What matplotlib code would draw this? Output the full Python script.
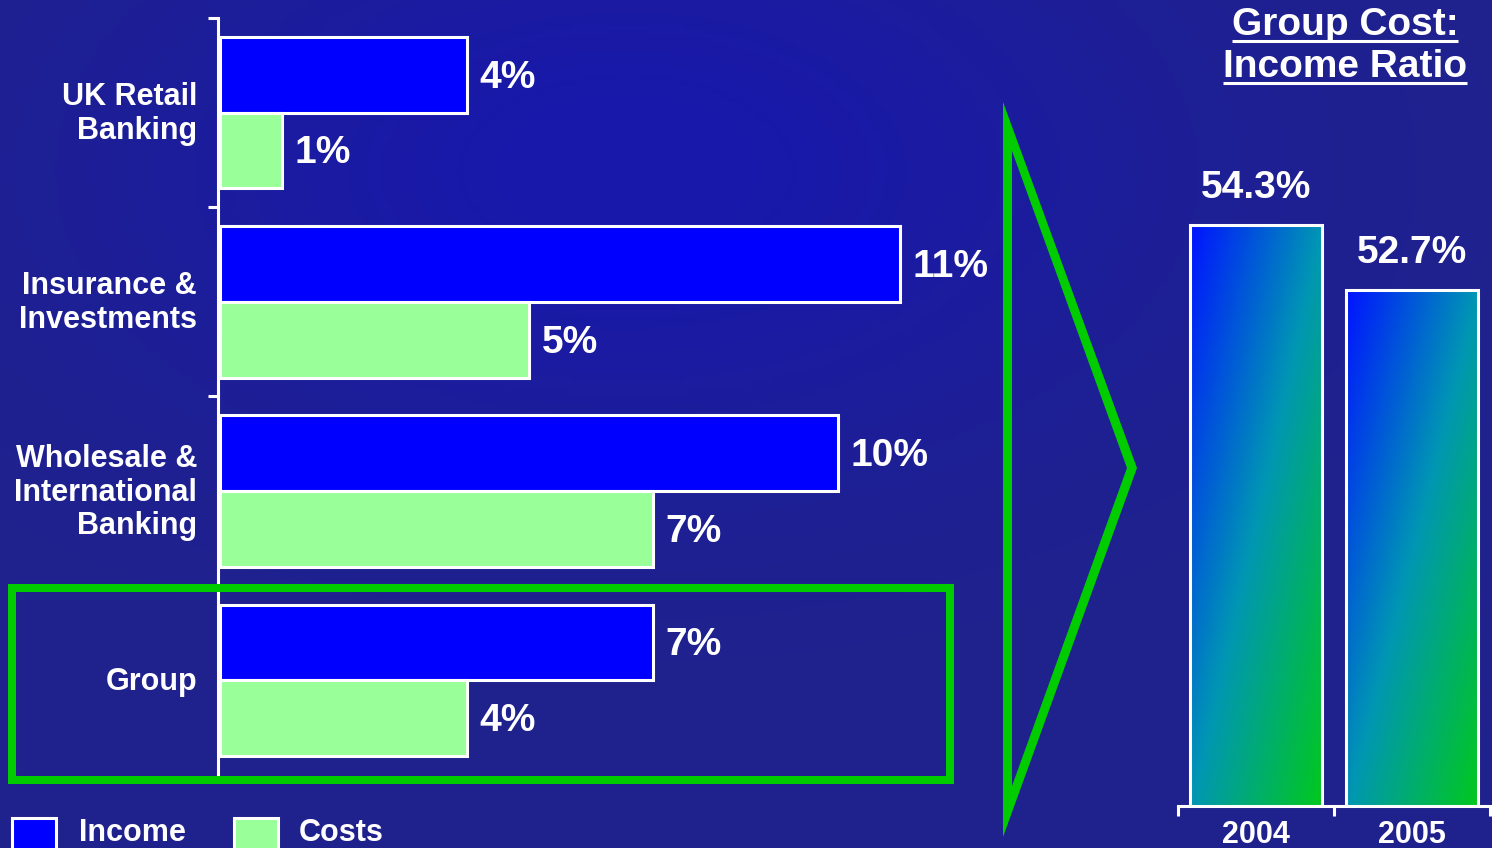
import numpy as np
import matplotlib
matplotlib.use("Agg")
import matplotlib.pyplot as plt
from matplotlib.patches import Rectangle, PathPatch
from matplotlib.path import Path
from matplotlib.colors import LinearSegmentedColormap

# ---- data -------------------------------------------------------------
divisions = ["UK Retail\nBanking", "Insurance &\nInvestments",
             "Wholesale &\nInternational\nBanking", "Group"]
income_growth = [4, 11, 10, 7]      # % change in income
cost_growth = [1, 5, 7, 4]          # % change in costs

years = ["2004", "2005"]
cost_income_ratio = [54.3, 52.7]    # group cost:income ratio, %
ratio_floor = 40                    # ratio axis starts here

# ---- style ------------------------------------------------------------
plt.rcParams["font.family"] = ["Liberation Sans", "DejaVu Sans"]
plt.rcParams["font.weight"] = "bold"
WHITE = "white"
INCOME_C = "#0000ff"
COST_C = "#99ff99"
HILITE = "#00cc00"

W, H = 1492, 848
fig = plt.figure(figsize=(W / 100, H / 100), dpi=100)


def fx(px):
    return px / W


def fy(py):
    return 1 - py / H


# ---- background -------------------------------------------------------
bg = fig.add_axes([0, 0, 1, 1], zorder=-10)
yy, xx = np.mgrid[0:1:200j, 0:1:360j]
glow = np.exp(-(((xx - 0.42) / 0.35) ** 2 + ((yy - 0.2) / 0.35) ** 2))
base = np.array([32, 34, 140]) / 255
bright = np.array([24, 24, 172]) / 255
bg_img = base[None, None, :] * (1 - glow[..., None]) + bright[None, None, :] * glow[..., None]
bg.imshow(bg_img, extent=[0, 1, 0, 1], aspect="auto", origin="upper")
bg.set_axis_off()

# ---- left panel: income vs cost growth by division ---------------------
ax1 = fig.add_axes([fx(218), fy(775), fx(1000) - fx(218), (775 - 18) / H])
ax1.patch.set_visible(False)
n = len(divisions)
centers = np.arange(n) + 0.5
ax1.set_xlim(-0.03, 782 / 62.0)
ax1.set_ylim(n, 0)

ax1.barh(centers - 0.2, income_growth, height=0.4, color=INCOME_C,
         edgecolor=WHITE, linewidth=2.2, zorder=3)
ax1.barh(centers + 0.2, cost_growth, height=0.4, color=COST_C,
         edgecolor=WHITE, linewidth=2.2, zorder=3)

for c, v in zip(centers - 0.2, income_growth):
    ax1.annotate(f"{v}%", xy=(v, c), xytext=(9, -2), textcoords="offset points",
                 ha="left", va="center", fontsize=28, color=WHITE)
for c, v in zip(centers + 0.2, cost_growth):
    ax1.annotate(f"{v}%", xy=(v, c), xytext=(9, -2), textcoords="offset points",
                 ha="left", va="center", fontsize=28, color=WHITE)

for c, name in zip(centers, divisions):
    ax1.annotate(name, xy=(0, c), xycoords=("axes fraction", "data"),
                 xytext=(-15, -1), textcoords="offset points",
                 ha="right", va="center", multialignment="right",
                 fontsize=22, color=WHITE, linespacing=1.17)

for side in ("top", "right", "bottom"):
    ax1.spines[side].set_visible(False)
ax1.spines["left"].set_color(WHITE)
ax1.spines["left"].set_linewidth(2.2)
ax1.set_xticks([])
ax1.set_yticks(np.arange(n))
ax1.tick_params(axis="y", direction="out", length=7, width=2.2,
                color=WHITE, labelleft=False)

# ---- right panel: group cost:income ratio ------------------------------
ax2 = fig.add_axes([fx(1178), fy(806), fx(1490) - fx(1178), (806 - 100) / H])
ax2.patch.set_visible(False)
xpos = np.arange(len(years))
bar_w = 0.85
ax2.set_xlim(-0.5, len(years) - 0.5)
ax2.set_ylim(ratio_floor, ratio_floor + 706 / 40.6)

grad_cmap = LinearSegmentedColormap.from_list(
    "ratio_grad", ["#0014ff", "#0096b4", "#00c81e"])
gu, gv = np.meshgrid(np.linspace(0, 1, 60), np.linspace(0, 1, 240))
grad = (gu + gv) / 2

bars = ax2.bar(xpos, cost_income_ratio, width=bar_w, facecolor="none",
               edgecolor=WHITE, linewidth=2.2, zorder=3)
for b, x, v in zip(bars, xpos, cost_income_ratio):
    im = ax2.imshow(grad, cmap=grad_cmap, vmin=0, vmax=1, origin="upper",
                    extent=[x - bar_w / 2, x + bar_w / 2, ratio_floor, v],
                    aspect="auto", zorder=2)
    im.set_clip_path(b)
    ax2.annotate(f"{v}%", xy=(x, v), xytext=(0, 14), textcoords="offset points",
                 ha="center", va="bottom", fontsize=28, color=WHITE)

for side in ("top", "right", "left"):
    ax2.spines[side].set_visible(False)
ax2.spines["bottom"].set_color(WHITE)
ax2.spines["bottom"].set_linewidth(2.2)
ax2.spines["bottom"].set_zorder(4)
ax2.set_yticks([])
ax2.set_xticks(np.arange(len(years) + 1) - 0.5)
ax2.set_xticklabels([])
ax2.tick_params(axis="x", which="major", direction="out", length=7,
                width=2.2, color=WHITE)
ax2.set_xticks(xpos, minor=True)
ax2.set_xticklabels(years, minor=True)
ax2.tick_params(axis="x", which="minor", length=0, pad=10,
                labelsize=22, labelcolor=WHITE)

# ---- title with underlines --------------------------------------------
t1 = fig.text(fx(1345), fy(35), "Group Cost:", ha="center", va="baseline",
              fontsize=28, color=WHITE)
t2 = fig.text(fx(1345), fy(77), "Income Ratio", ha="center", va="baseline",
              fontsize=28, color=WHITE)
fig.canvas.draw()
renderer = fig.canvas.get_renderer()
for t, uy in ((t1, 40.5), (t2, 83)):
    bb = t.get_window_extent(renderer)
    fig.add_artist(plt.Line2D([bb.x0 / W, bb.x1 / W], [fy(uy), fy(uy)],
                              transform=fig.transFigure, color=WHITE,
                              linewidth=2.2, solid_capstyle="butt"))

# ---- highlight box around the group row --------------------------------
fig.add_artist(Rectangle((fx(11.5), fy(780)), fx(950) - fx(11.5), (780 - 588) / H,
                         transform=fig.transFigure, fill=False,
                         edgecolor=HILITE, linewidth=5.8, zorder=5))

# ---- chevron pointing to the ratio panel -------------------------------
outer = [(1003, 102), (1137, 468), (1003, 837)]
inner = [(1012, 151), (1012, 786), (1127, 468)]
verts, codes = [], []
for ring in (outer, inner):
    pts = [(fx(px), fy(py)) for px, py in ring]
    verts += pts + [pts[0]]
    codes += [Path.MOVETO, Path.LINETO, Path.LINETO, Path.CLOSEPOLY]
fig.add_artist(PathPatch(Path(verts, codes), transform=fig.transFigure,
                         facecolor=HILITE, edgecolor="none", zorder=5))

# ---- legend -----------------------------------------------------------
for (x0, x1, tx), label, col in (((11.5, 55.5, 79), "Income", INCOME_C),
                                 ((233.5, 277.5, 299), "Costs", COST_C)):
    fig.add_artist(Rectangle((fx(x0), fy(870)), fx(x1) - fx(x0), (870 - 817.5) / H,
                             transform=fig.transFigure, facecolor=col,
                             edgecolor=WHITE, linewidth=2.2, zorder=5))
    fig.text(fx(tx), fy(841), label, ha="left", va="baseline",
             fontsize=22, color=WHITE)

fig.savefig("out.png", dpi=100)
